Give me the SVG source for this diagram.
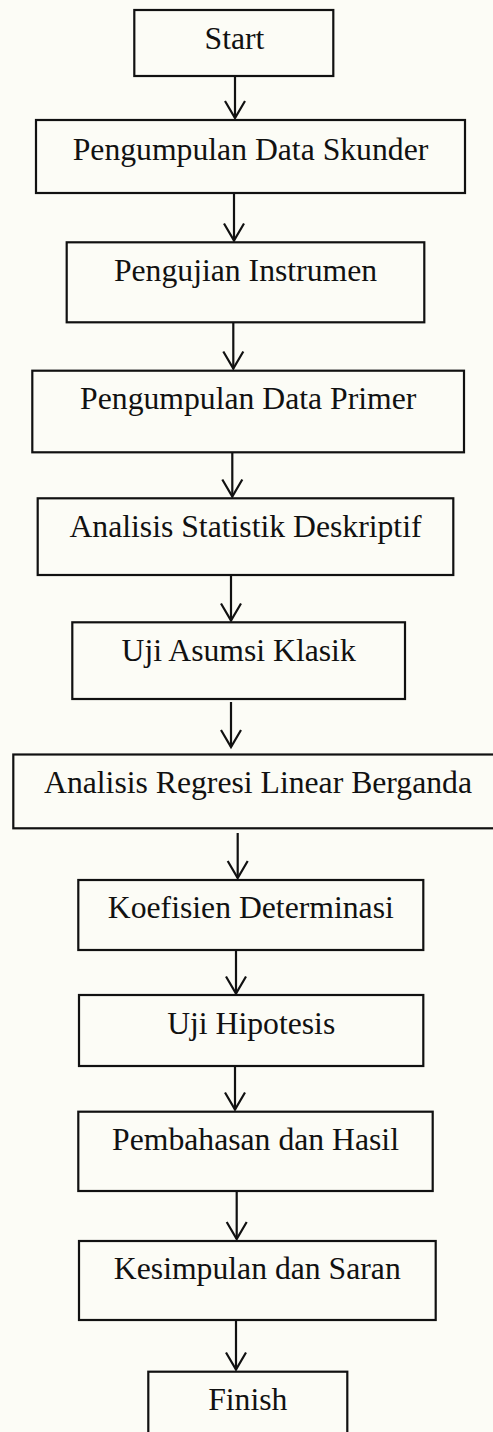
<svg xmlns="http://www.w3.org/2000/svg" width="493" height="1432" viewBox="0 0 493 1432">
  <defs>
    <style>
      .box { fill: none; stroke: #111; stroke-width: 2.2; }
      .lbl { font-family: "Liberation Serif", "Times New Roman", serif; font-size: 31.7px; fill: #111; text-anchor: middle; }
      .edge { fill: none; stroke: #111; stroke-width: 2.2; marker-end: url(#chev); }
    </style>
    <!-- open chevron arrowhead -->
    <marker id="chev" markerUnits="userSpaceOnUse" viewBox="-20 -12 23 24" refX="0" refY="0" markerWidth="23" markerHeight="24" orient="auto" overflow="visible">
      <path d="M -17,-10 L 0,0 L -17,10" fill="none" stroke="#111" stroke-width="2.2"/>
    </marker>
  </defs>

  <rect x="0" y="0" width="493" height="1432" fill="#fcfcf6"/>

  <g id="connectors">
    <path class="edge" d="M 235,76 L 235,118"/>
    <path class="edge" d="M 234,193 L 234,240.5"/>
    <path class="edge" d="M 233.3,322.3 L 233.3,368.5"/>
    <path class="edge" d="M 232.3,452.3 L 232.3,496.5"/>
    <path class="edge" d="M 231,575 L 231,620.5"/>
    <path class="edge" d="M 231,702 L 231,747"/>
    <path class="edge" d="M 237.7,833 L 237.7,878"/>
    <path class="edge" d="M 236,950 L 236,993.5"/>
    <path class="edge" d="M 235,1066 L 235,1109.5"/>
    <path class="edge" d="M 236.7,1191 L 236.7,1239"/>
    <path class="edge" d="M 236,1320 L 236,1369.5"/>
  </g>

  <g id="start">
    <rect class="box" x="134.3" y="10" width="199" height="66"/>
    <text class="lbl" x="234.5" y="48.5">Start</text>
  </g>
  <g id="pengumpulan-data-skunder">
    <rect class="box" x="36" y="120" width="429" height="73"/>
    <text class="lbl" x="250.5" y="159.5">Pengumpulan Data Skunder</text>
  </g>
  <g id="pengujian-instrumen">
    <rect class="box" x="66.7" y="242.3" width="357.6" height="80"/>
    <text class="lbl" x="245.5" y="281.3">Pengujian Instrumen</text>
  </g>
  <g id="pengumpulan-data-primer">
    <rect class="box" x="32.3" y="370.7" width="431.7" height="81.6"/>
    <text class="lbl" x="248.2" y="408.8">Pengumpulan Data Primer</text>
  </g>
  <g id="analisis-statistik-deskriptif">
    <rect class="box" x="37.7" y="498.3" width="415.6" height="76.7"/>
    <text class="lbl" x="245.5" y="536.8">Analisis Statistik Deskriptif</text>
  </g>
  <g id="uji-asumsi-klasik">
    <rect class="box" x="72.3" y="622.3" width="332.7" height="76.7"/>
    <text class="lbl" x="238.7" y="661.3">Uji Asumsi Klasik</text>
  </g>
  <g id="analisis-regresi-linear-berganda">
    <rect class="box" x="13.3" y="754.5" width="495" height="73.8"/>
    <text class="lbl" x="258" y="793.3">Analisis Regresi Linear Berganda</text>
  </g>
  <g id="koefisien-determinasi">
    <rect class="box" x="78.3" y="880" width="345" height="70"/>
    <text class="lbl" x="250.8" y="918.3">Koefisien Determinasi</text>
  </g>
  <g id="uji-hipotesis">
    <rect class="box" x="79" y="995" width="344.3" height="71"/>
    <text class="lbl" x="251.2" y="1034">Uji Hipotesis</text>
  </g>
  <g id="pembahasan-dan-hasil">
    <rect class="box" x="78.3" y="1111.7" width="354.4" height="79.3"/>
    <text class="lbl" x="255.5" y="1150">Pembahasan dan Hasil</text>
  </g>
  <g id="kesimpulan-dan-saran">
    <rect class="box" x="79" y="1241" width="356.7" height="79"/>
    <text class="lbl" x="257.3" y="1279.3">Kesimpulan dan Saran</text>
  </g>
  <g id="finish">
    <rect class="box" x="148.3" y="1371.7" width="199" height="80"/>
    <text class="lbl" x="247.8" y="1410">Finish</text>
  </g>
</svg>
